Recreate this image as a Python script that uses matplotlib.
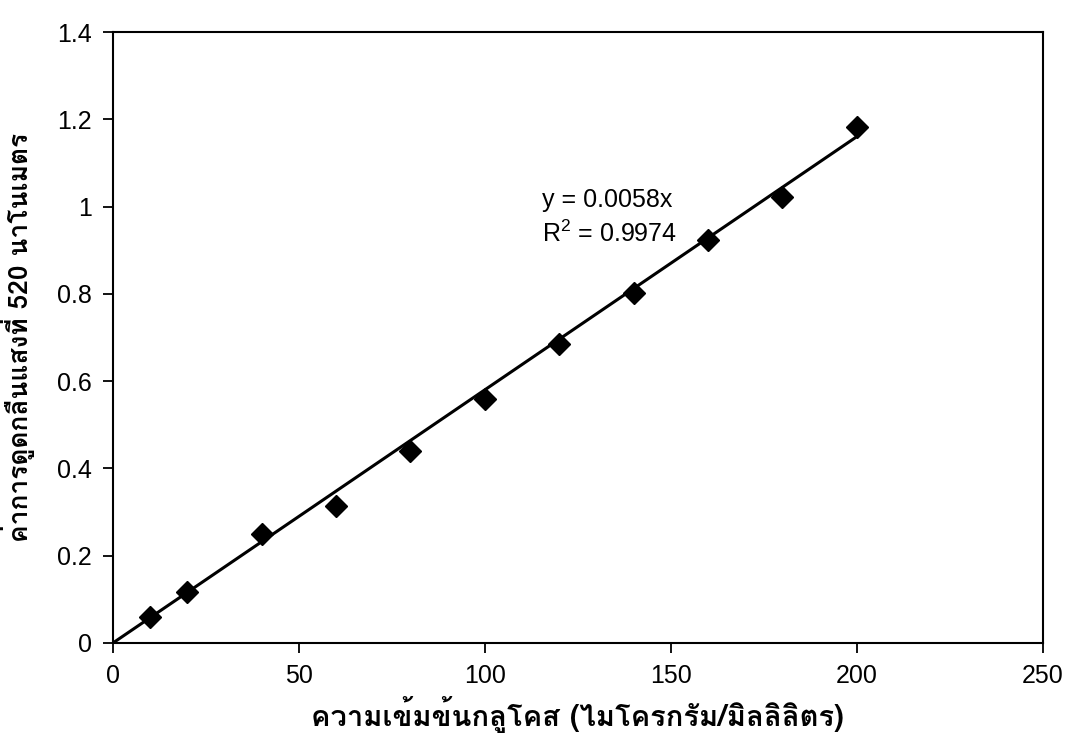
import numpy as np
import matplotlib
matplotlib.use('Agg')
import matplotlib.pyplot as plt
from matplotlib import font_manager, ft2font

conc = [10, 20, 40, 60, 80, 100, 120, 140, 160, 180, 200]
absorb = [0.06, 0.116, 0.25, 0.314, 0.44, 0.56, 0.686, 0.803, 0.924, 1.023, 1.183]
slope = 0.0058
eq_text = 'y = 0.0058x\n$\\mathregular{R^2}$ = 0.9974'
xlabel = 'ความเข้มข้นกลูโคส (ไมโครกรัม/มิลลิลิตร)'
ylabel = 'ค่าการดูดกลืนแสงที่ 520 นาโนเมตร'

# find an installed family that has Thai glyphs
thai_family = None
for f in font_manager.fontManager.ttflist:
    try:
        cmap = ft2font.FT2Font(f.fname).get_charmap()
    except Exception:
        continue
    if 0x0E04 in cmap and 0x0E25 in cmap:
        thai_family = f.name
        break
fams = ([thai_family] if thai_family else []) + ['Liberation Sans', 'DejaVu Sans']

plt.rcParams['font.family'] = ['Liberation Sans', 'DejaVu Sans']

fig = plt.figure(figsize=(10.66, 7.45), dpi=100)
ax = fig.add_axes([0.106, 0.137, 0.872, 0.82])

xs = np.array([0, conc[-1]])
ax.plot(xs, slope * xs, color='black', lw=2.2, zorder=2)
ax.plot(conc, absorb, 'D', color='black', markersize=11, zorder=3)

ax.set_xlim(0, 250)
ax.set_ylim(0, 1.4)
ax.set_xticks(range(0, 251, 50))
ax.set_yticks(np.arange(0, 1.41, 0.2))
ax.set_yticklabels(['0', '0.2', '0.4', '0.6', '0.8', '1', '1.2', '1.4'])
ax.tick_params(direction='out', length=7, width=1.3, labelsize=18, pad=8)
for s in ax.spines.values():
    s.set_linewidth(1.5)

ax.text(115.5, 0.975, eq_text, fontsize=18, ha='left', va='center', linespacing=1.4)

ax.set_xlabel(xlabel, fontsize=21, fontweight='bold', family=fams, labelpad=6)
ax.set_ylabel(ylabel, fontsize=19, fontweight='bold', family=fams, labelpad=16)

fig.savefig('out.png', dpi=100, facecolor='white')
